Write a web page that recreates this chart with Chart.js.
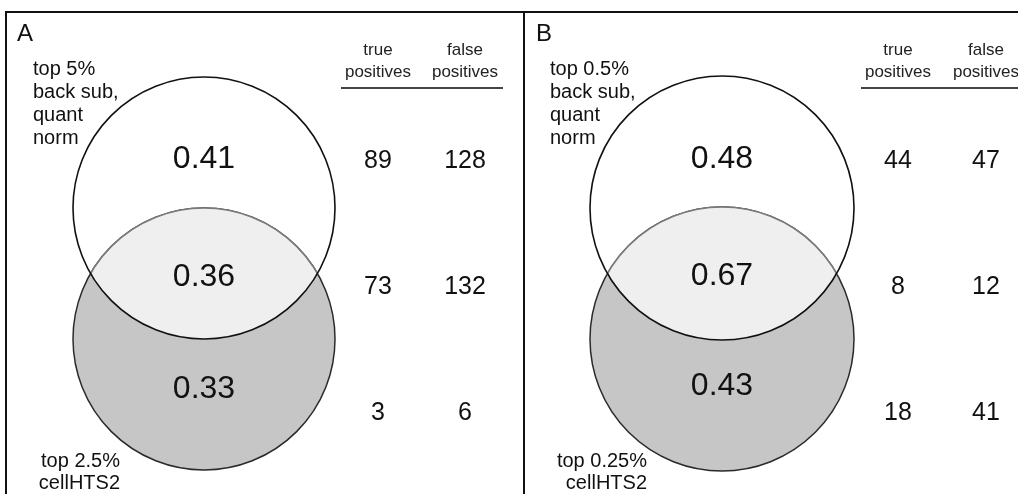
<!DOCTYPE html>
<html>
<head>
<meta charset="utf-8">
<title>Venn overlap</title>
<script src="https://cdn.jsdelivr.net/npm/chart.js@4.4.1/dist/chart.umd.min.js"></script>
<style>
  html, body { margin: 0; padding: 0; background: #fff; }
  canvas { display: block; }
</style>
</head>
<body>
<canvas id="venn" width="1018" height="494"></canvas>
<script>
// overlap fractions per region: top-only, shared, bottom-only
const panels = ['A', 'B'];
const regionValuesA = [0.41, 0.36, 0.33];
const regionValuesB = [0.48, 0.67, 0.43];
const truePositivesA = [89, 73, 3];
const falsePositivesA = [128, 132, 6];
const truePositivesB = [44, 8, 18];
const falsePositivesB = [47, 12, 41];
const columnHeaders = [['true', 'positives'], ['false', 'positives']];
const topSetLabels = [['top 5%', 'back sub,', 'quant', 'norm'], ['top 0.5%', 'back sub,', 'quant', 'norm']];
const bottomSetLabels = [['top 2.5%', 'cellHTS2'], ['top 0.25%', 'cellHTS2']];

// layout (axis units = canvas pixels)
const layout = [
  { cx: 204, topCy: 208, botCy: 339, r: 131, cols: [378, 465], rule: [341, 503], letterX: 17, textX: 33, botTextX: 120 },
  { cx: 722, topCy: 208, botCy: 339, r: 132, cols: [898, 986], rule: [861, 1030], letterX: 536, textX: 550, botTextX: 647 }
];
const regionRows = [[158, 276, 388], [158, 275, 385]];
const tableRows = [160, 286, 412];

const FONT = '"Liberation Sans", Arial, Helvetica, sans-serif';

function pointsAt(x, ys) {
  return ys.map(y => ({ x: x, y: y }));
}

const datasets = [];
[[regionValuesA, truePositivesA, falsePositivesA], [regionValuesB, truePositivesB, falsePositivesB]].forEach((set, p) => {
  const L = layout[p];
  datasets.push({ label: panels[p] + ' overlap', data: pointsAt(L.cx, regionRows[p]), texts: set[0].map(v => v.toFixed(2)), fontSize: 32 });
  datasets.push({ label: panels[p] + ' true positives', data: pointsAt(L.cols[0], tableRows), texts: set[1].map(String), fontSize: 25 });
  datasets.push({ label: panels[p] + ' false positives', data: pointsAt(L.cols[1], tableRows), texts: set[2].map(String), fontSize: 25 });
});

const vennPlugin = {
  id: 'venn',
  beforeDatasetsDraw(chart) {
    const ctx = chart.ctx;
    const xs = chart.scales.x, ys = chart.scales.y;
    layout.forEach(L => {
      const cx = xs.getPixelForValue(L.cx);
      const ty = ys.getPixelForValue(L.topCy);
      const by = ys.getPixelForValue(L.botCy);
      const r = xs.getPixelForValue(L.cx + L.r) - cx;
      const circle = y => { ctx.beginPath(); ctx.arc(cx, y, r, 0, Math.PI * 2); };
      ctx.save();
      circle(by); ctx.fillStyle = '#c6c6c6'; ctx.fill();
      circle(ty); ctx.fillStyle = '#ffffff'; ctx.fill();
      circle(by); ctx.strokeStyle = '#2a2a2a'; ctx.lineWidth = 1.5; ctx.stroke();
      ctx.save();
      circle(ty); ctx.clip();
      circle(by); ctx.fillStyle = '#efefef'; ctx.fill();
      ctx.strokeStyle = '#7a7a7a'; ctx.lineWidth = 1.6; ctx.stroke();
      ctx.restore();
      circle(ty); ctx.strokeStyle = '#111'; ctx.lineWidth = 1.6; ctx.stroke();
      ctx.restore();
    });
  },
  afterDatasetsDraw(chart) {
    const ctx = chart.ctx;
    ctx.save();
    ctx.fillStyle = '#111';
    ctx.textAlign = 'center';
    ctx.textBaseline = 'middle';
    chart.data.datasets.forEach((ds, i) => {
      const meta = chart.getDatasetMeta(i);
      ctx.font = ds.fontSize + 'px ' + FONT;
      meta.data.forEach((pt, j) => ctx.fillText(ds.texts[j], pt.x, pt.y + 1));
    });
    ctx.restore();
  },
  afterDraw(chart) {
    const ctx = chart.ctx;
    const xs = chart.scales.x, ys = chart.scales.y;
    const px = v => xs.getPixelForValue(v), py = v => ys.getPixelForValue(v);
    ctx.save();
    // frame and panel divider
    ctx.strokeStyle = '#111';
    ctx.lineWidth = 2;
    ctx.beginPath();
    ctx.moveTo(px(6), py(500)); ctx.lineTo(px(6), py(12)); ctx.lineTo(px(1018), py(12));
    ctx.moveTo(px(524), py(12)); ctx.lineTo(px(524), py(500));
    ctx.stroke();

    layout.forEach((L, p) => {
      ctx.fillStyle = '#111';
      ctx.textBaseline = 'middle';
      ctx.textAlign = 'left';
      ctx.font = '24px ' + FONT;
      ctx.fillText(panels[p], px(L.letterX), py(34));
      ctx.font = '20px ' + FONT;
      topSetLabels[p].forEach((t, k) => ctx.fillText(t, px(L.textX), py(69 + k * 23.3)));
      ctx.textAlign = 'right';
      bottomSetLabels[p].forEach((t, k) => ctx.fillText(t, px(L.botTextX), py(461 + k * 22)));
      ctx.textAlign = 'center';
      ctx.font = '17px ' + FONT;
      ctx.fillStyle = '#222';
      columnHeaders.forEach((h, c) => h.forEach((t, k) => ctx.fillText(t, px(L.cols[c]), py(50 + k * 22))));
      ctx.strokeStyle = '#444';
      ctx.lineWidth = 2;
      ctx.beginPath();
      ctx.moveTo(px(L.rule[0]), py(88));
      ctx.lineTo(px(L.rule[1]), py(88));
      ctx.stroke();
    });
    ctx.restore();
  }
};

new Chart(document.getElementById('venn'), {
  type: 'scatter',
  data: { datasets: datasets },
  options: {
    responsive: false,
    animation: false,
    layout: { padding: 0 },
    elements: { point: { radius: 0, hoverRadius: 0 } },
    scales: {
      x: { type: 'linear', min: 0, max: 1018, display: false },
      y: { type: 'linear', min: 0, max: 494, reverse: true, display: false }
    },
    plugins: {
      legend: { display: false },
      tooltip: { enabled: false }
    }
  },
  plugins: [vennPlugin]
});
</script>
</body>
</html>
